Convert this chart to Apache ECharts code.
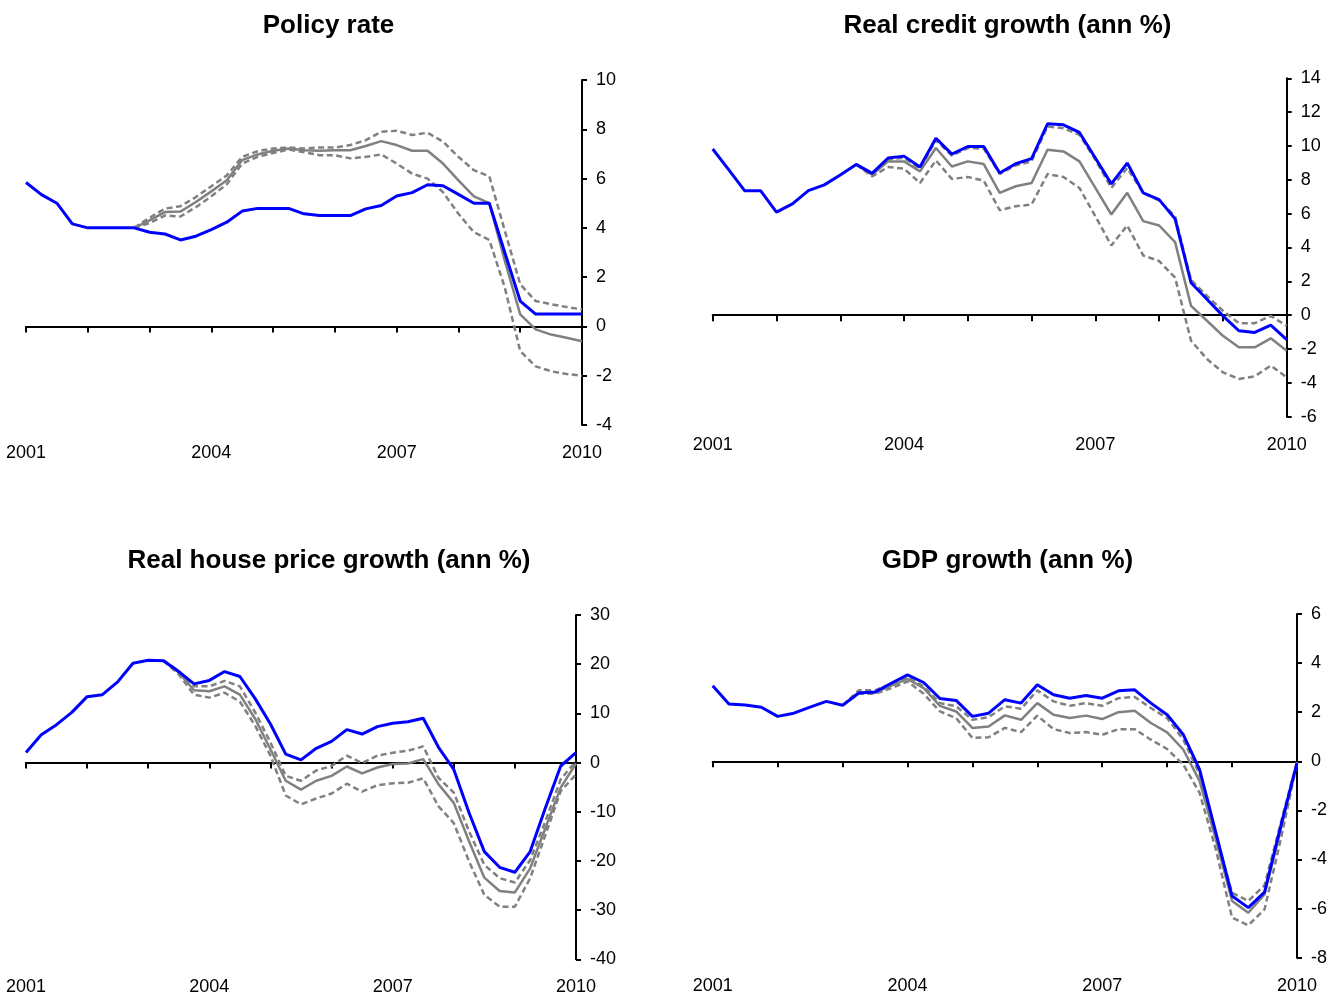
<!DOCTYPE html>
<html>
<head>
<meta charset="utf-8">
<script src="https://cdn.jsdelivr.net/npm/echarts@6/dist/echarts.min.js"></script>
<style>
html,body{margin:0;padding:0;background:#fff;}
#chart{width:1341px;height:1001px;}
</style>
</head>
<body>
<div id="chart"></div>
<script>
// Quarterly observations 2001Q1 .. 2010Q1 (37 points); x index = quarter number from 2001Q1
var yearTicks = [2001, 2004, 2007, 2010];
var titles = ["Policy rate", "Real credit growth (ann %)", "Real house price growth (ann %)", "GDP growth (ann %)"];

var N = null;
// Policy rate
var policyActual = [5.84,5.35,5.0,4.16,4.0,4.0,4.0,4.0,3.82,3.75,3.51,3.66,3.93,4.23,4.68,4.79,4.79,4.79,4.57,4.5,4.5,4.5,4.77,4.91,5.29,5.43,5.75,5.71,5.36,5.0,5.0,3.0,1.03,0.5,0.5,0.5,0.5];
var policyMedian = [N,N,N,N,N,N,N,4.0,4.3,4.64,4.66,5.05,5.48,5.93,6.75,6.98,7.13,7.22,7.15,7.13,7.15,7.15,7.32,7.52,7.36,7.13,7.13,6.61,5.93,5.28,5.0,2.67,0.49,-0.12,-0.33,-0.46,-0.6];
var policyUpper = [N,N,N,N,N,N,N,4.0,4.41,4.78,4.88,5.25,5.69,6.13,6.88,7.11,7.22,7.26,7.22,7.26,7.26,7.36,7.56,7.9,7.94,7.77,7.86,7.5,6.88,6.34,6.09,3.89,1.71,1.03,0.9,0.79,0.69];
var policyLower = [N,N,N,N,N,N,N,4.0,4.19,4.5,4.46,4.84,5.28,5.77,6.61,6.88,7.04,7.18,7.07,6.95,6.95,6.82,6.88,6.98,6.61,6.2,6.0,5.45,4.57,3.82,3.51,1.58,-1.0,-1.62,-1.82,-1.93,-2.0];

// Real credit growth
var creditActual = [9.82,8.6,7.36,7.36,6.09,6.58,7.36,7.7,8.29,8.91,8.38,9.29,9.4,8.76,10.46,9.52,9.97,9.97,8.4,8.95,9.25,11.31,11.25,10.8,9.29,7.76,8.99,7.23,6.83,5.69,1.92,0.94,-0.04,-0.92,-1.02,-0.59,-1.45];
var creditMedian = [N,N,N,N,N,N,N,N,N,8.91,8.3,9.09,9.09,8.5,9.88,8.79,9.09,8.93,7.23,7.62,7.81,9.78,9.68,9.09,7.52,5.95,7.23,5.56,5.3,4.32,0.55,-0.33,-1.22,-1.9,-1.9,-1.37,-2.1];
var creditUpper = [N,N,N,N,N,N,N,N,N,8.91,8.4,9.2,9.3,8.66,10.34,9.43,9.88,9.84,8.35,8.85,9.09,11.15,11.05,10.66,9.19,7.52,8.7,7.23,6.77,5.85,2.08,1.14,0.26,-0.47,-0.47,-0.04,-0.63];
var creditLower = [N,N,N,N,N,N,N,N,N,8.91,8.2,8.76,8.66,7.81,9.15,8.05,8.17,7.95,6.2,6.44,6.54,8.34,8.17,7.52,5.85,4.12,5.3,3.53,3.2,2.22,-1.51,-2.59,-3.38,-3.77,-3.61,-2.98,-3.67];

// Real house price growth
var houseActual = [2.04,5.66,7.7,10.2,13.4,13.8,16.4,20.2,20.8,20.7,18.5,16.0,16.7,18.5,17.5,13.0,7.84,1.7,0.55,2.9,4.3,6.7,5.8,7.3,8.0,8.3,9.0,3.1,-1.4,-10.2,-18.1,-21.3,-22.3,-18.1,-9.2,-0.7,2.0];
var houseMedian = [N,N,N,N,N,N,N,N,N,20.7,18.3,14.7,14.5,15.5,13.8,8.9,2.7,-3.7,-5.5,-3.7,-2.7,-0.8,-2.2,-1.0,-0.3,-0.2,0.7,-4.4,-8.2,-16.0,-23.4,-26.1,-26.4,-21.5,-13.3,-5.1,-0.2];
var houseUpper = [N,N,N,N,N,N,N,N,N,20.7,18.6,15.5,15.5,16.6,15.5,10.2,4.1,-2.7,-3.7,-1.6,-0.7,1.4,-0.1,1.4,2.0,2.4,3.3,-3.1,-6.1,-14.0,-20.8,-23.5,-24.4,-19.8,-11.9,-3.4,0.3];
var houseLower = [N,N,N,N,N,N,N,N,N,20.7,17.9,13.8,13.2,14.2,12.4,7.5,1.4,-6.7,-8.5,-7.3,-6.3,-4.3,-5.9,-4.6,-4.2,-4.1,-3.2,-8.9,-12.3,-20.1,-26.9,-29.3,-29.3,-23.5,-14.7,-5.8,-2.4];

// GDP growth
var gdpActual = [3.08,2.33,2.29,2.2,1.83,1.96,2.21,2.44,2.28,2.78,2.82,3.18,3.52,3.21,2.56,2.48,1.83,1.96,2.51,2.37,3.12,2.71,2.57,2.68,2.57,2.87,2.91,2.37,1.9,1.08,-0.34,-2.91,-5.49,-5.96,-5.33,-2.64,-0.07];
var gdpMedian = [N,N,N,N,N,N,N,N,2.28,2.8,2.8,3.08,3.36,2.98,2.26,2.03,1.36,1.42,1.87,1.69,2.37,1.9,1.76,1.86,1.72,2.0,2.06,1.56,1.18,0.47,-0.81,-3.18,-5.69,-6.17,-5.42,-2.78,-0.03];
var gdpUpper = [N,N,N,N,N,N,N,N,2.28,2.89,2.89,3.15,3.43,3.05,2.37,2.24,1.69,1.8,2.24,2.14,2.89,2.44,2.26,2.37,2.26,2.57,2.62,2.17,1.76,0.88,-0.54,-3.05,-5.35,-5.69,-5.05,-2.51,0.0];
var gdpLower = [N,N,N,N,N,N,N,N,2.28,2.75,2.75,2.98,3.25,2.75,2.03,1.76,0.95,0.98,1.36,1.19,1.86,1.31,1.15,1.19,1.08,1.31,1.31,0.88,0.5,-0.14,-1.29,-3.59,-6.37,-6.68,-6.03,-3.18,-0.07];

// y-axis ranges (min, max, step)
var yMins = [-4, -6, -40, -8];
var yMaxs = [10, 14, 30, 6];
var ySteps = [2, 2, 10, 2];

var panels = [
  {actual: policyActual, median: policyMedian, upper: policyUpper, lower: policyLower},
  {actual: creditActual, median: creditMedian, upper: creditUpper, lower: creditLower},
  {actual: houseActual, median: houseMedian, upper: houseUpper, lower: houseLower},
  {actual: gdpActual, median: gdpMedian, upper: gdpUpper, lower: gdpLower}
];

// layout
var grids = [
  {left: 26, top: 80, width: 556, height: 345},
  {left: 712.7, top: 78.3, width: 574, height: 338.4},
  {left: 26, top: 615, width: 550, height: 344.3},
  {left: 712.7, top: 614, width: 584.3, height: 343.7}
];
var titlePos = [[328.5, 25.5], [1007.5, 25.5], [329, 560.5], [1007.5, 560.5]];

var FONT = "'Liberation Sans', Arial, Helvetica, sans-serif";

function pairs(arr) {
  var out = [];
  for (var i = 0; i < arr.length; i++) if (arr[i] !== null) out.push([i, arr[i]]);
  return out;
}

var option = {
  animation: false,
  backgroundColor: '#ffffff',
  title: [], grid: [], xAxis: [], yAxis: [], series: []
};

for (var g = 0; g < 4; g++) {
  option.title.push({
    text: titles[g], left: titlePos[g][0], top: titlePos[g][1], padding: 0,
    textAlign: 'center', textVerticalAlign: 'middle',
    textStyle: {fontFamily: FONT, fontSize: 26, fontWeight: 'bold', color: '#000'}
  });
  option.grid.push(Object.assign({containLabel: false}, grids[g]));
  // zero line with yearly ticks
  option.xAxis.push({
    gridIndex: g, type: 'value', min: 0, max: 36, interval: 4, position: 'bottom',
    axisLine: {show: true, onZero: true, lineStyle: {color: '#000', width: 2}},
    axisTick: {show: true, length: 6, lineStyle: {color: '#000', width: 2}},
    axisLabel: {show: false}, splitLine: {show: false}
  });
  // year labels at the bottom of the plot
  option.xAxis.push({
    gridIndex: g, type: 'value', min: 0, max: 36, interval: 12, position: 'bottom',
    axisLine: {show: false, onZero: false}, axisTick: {show: false}, splitLine: {show: false},
    axisLabel: {
      margin: 19, fontSize: 18, color: '#000', fontFamily: FONT,
      formatter: function (v) { return String(yearTicks[Math.round(v / 12)]); }
    }
  });
  option.yAxis.push({
    gridIndex: g, type: 'value', position: 'right',
    min: yMins[g], max: yMaxs[g], interval: ySteps[g],
    axisLine: {show: true, onZero: false, lineStyle: {color: '#000', width: 2}},
    axisTick: {show: true, length: 5, lineStyle: {color: '#000', width: 2}},
    axisLabel: {margin: 14, fontSize: 18, color: '#000', fontFamily: FONT, padding: [5, 0, 0, 0]},
    splitLine: {show: false}
  });
  var p = panels[g];
  var xi = g * 2;
  var grey = '#808080';
  [['lower', p.lower, [6, 3.5]], ['upper', p.upper, [6, 3.5]]].forEach(function (s) {
    option.series.push({
      type: 'line', name: s[0], xAxisIndex: xi, yAxisIndex: g, data: pairs(s[1]),
      showSymbol: false, symbol: 'none', silent: true,
      lineStyle: {color: grey, width: 2.5, type: s[2]}
    });
  });
  option.series.push({
    type: 'line', name: 'median', xAxisIndex: xi, yAxisIndex: g, data: pairs(p.median),
    showSymbol: false, symbol: 'none', silent: true,
    lineStyle: {color: grey, width: 2.5, type: 'solid'}
  });
  option.series.push({
    type: 'line', name: 'actual', xAxisIndex: xi, yAxisIndex: g, data: pairs(p.actual),
    showSymbol: false, symbol: 'none', silent: true,
    lineStyle: {color: '#0000ff', width: 3, type: 'solid'}
  });
}

var chart = echarts.init(document.getElementById('chart'), null, {renderer: 'canvas'});
chart.setOption(option);
</script>
</body>
</html>
